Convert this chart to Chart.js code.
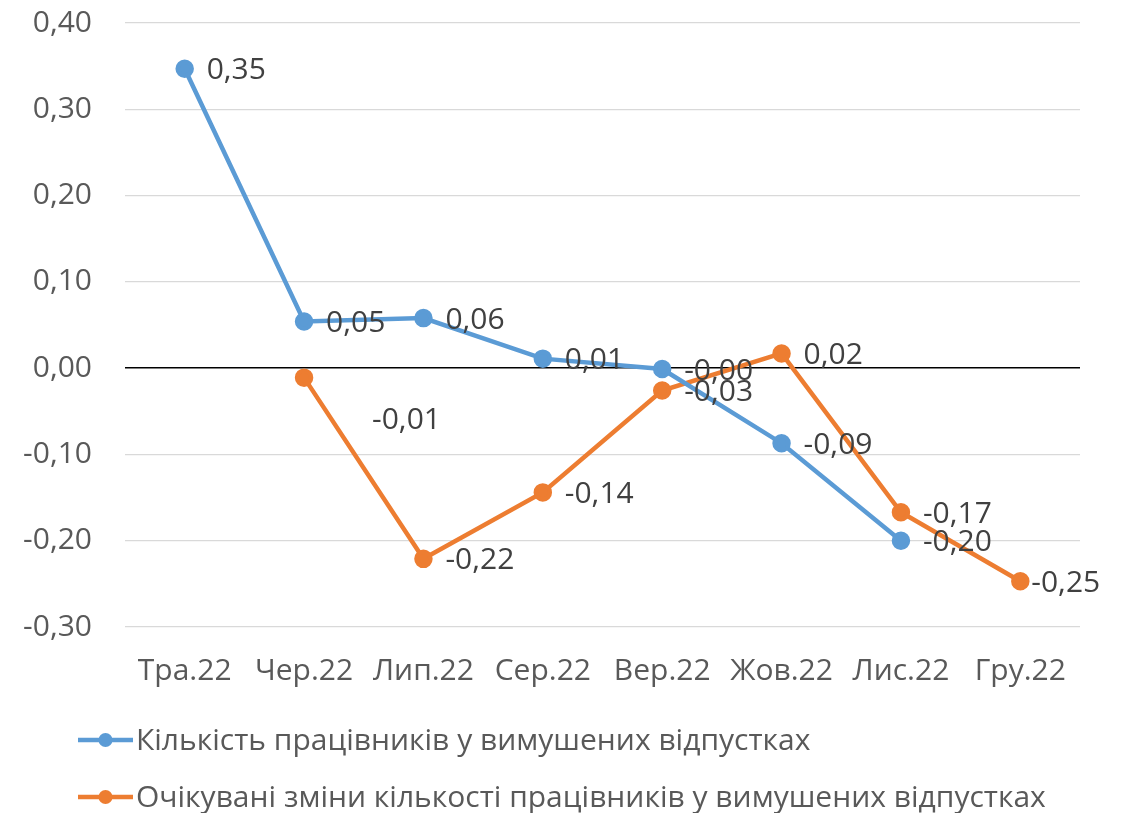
<!DOCTYPE html>
<html>
<head>
<meta charset="utf-8">
<script src="https://cdn.jsdelivr.net/npm/chart.js@4"></script>
<style>
  html, body { margin: 0; padding: 0; background: #fff; }
  #wrap { width: 1129px; height: 813px; position: relative; }
</style>
</head>
<body>
<div id="wrap"><canvas id="chart"></canvas></div>
<script>
// categories and values
const months = ["Тра.22", "Чер.22", "Лип.22", "Сер.22", "Вер.22", "Жов.22", "Лис.22", "Гру.22"];
const workersOnLeave = [0.347, 0.054, 0.058, 0.011, -0.001, -0.087, -0.200, null];
const expectedChange = [null, -0.011, -0.221, -0.144, -0.026, 0.017, -0.167, -0.247];
const seriesNames = [
  "Кількість працівників у вимушених відпустках",
  "Очікувані зміни кількості працівників у вимушених відпустках"
];

const BLUE = "#5b9bd5";
const ORANGE = "#ed7d31";
const FONT = "'Open Sans', Lato, sans-serif";
const FSIZE = 30;

function fmt(v) {
  return v.toFixed(2).replace(".", ",");
}

// draws value labels next to each point
const valueLabels = {
  id: "valueLabels",
  afterDatasetsDraw(chart) {
    const ctx = chart.ctx;
    ctx.save();
    ctx.font = FSIZE + "px " + FONT;
    ctx.fillStyle = "#404040";
    ctx.textBaseline = "middle";
    ctx.textAlign = "left";
    chart.data.datasets.forEach((ds, i) => {
      const meta = chart.getDatasetMeta(i);
      meta.data.forEach((pt, j) => {
        const v = ds.data[j];
        if (v === null || v === undefined) return;
        const shift = (ds.labelShift && ds.labelShift[j]) || [0, 0];
        ctx.fillText(fmt(v), pt.x + 22 + shift[0], pt.y + 2 + shift[1]);
      });
    });
    ctx.restore();
  }
};

// legend below the chart: line with marker, one row per series
const lineLegend = {
  id: "lineLegend",
  afterDraw(chart) {
    const ctx = chart.ctx;
    ctx.save();
    ctx.font = FSIZE + "px " + FONT;
    ctx.textBaseline = "middle";
    ctx.textAlign = "left";
    chart.data.datasets.forEach((ds, i) => {
      const y = 740 + i * 57;
      ctx.strokeStyle = ds.borderColor;
      ctx.lineWidth = 4.5;
      ctx.beginPath();
      ctx.moveTo(78, y);
      ctx.lineTo(133, y);
      ctx.stroke();
      ctx.fillStyle = ds.borderColor;
      ctx.beginPath();
      ctx.arc(105.5, y, 7, 0, Math.PI * 2);
      ctx.fill();
      ctx.fillStyle = "#595959";
      ctx.fillText(ds.label, 136, y + 1);
    });
    ctx.restore();
  }
};

const ctx = document.getElementById("chart");
new Chart(ctx, {
  type: "line",
  data: {
    labels: months,
    datasets: [
      {
        label: seriesNames[0],
        data: workersOnLeave,
        borderColor: BLUE,
        backgroundColor: BLUE,
        borderWidth: 4.5,
        pointRadius: 7,
        pointHoverRadius: 7,
        tension: 0,
        spanGaps: false
      },
      {
        label: seriesNames[1],
        data: expectedChange,
        borderColor: ORANGE,
        backgroundColor: ORANGE,
        borderWidth: 4.5,
        pointRadius: 7,
        pointHoverRadius: 7,
        tension: 0,
        spanGaps: false,
        labelShift: { 1: [46, 41], 7: [-11, 0] }
      }
    ]
  },
  options: {
    responsive: true,
    maintainAspectRatio: false,
    animation: false,
    layout: { padding: { left: 0, right: 49, top: 23, bottom: 106 } },
    plugins: {
      legend: { display: false },
      tooltip: { enabled: false }
    },
    scales: {
      x: {
        offset: true,
        grid: { display: false, drawTicks: false },
        border: { display: false },
        ticks: {
          color: "#595959",
          font: { family: FONT, size: FSIZE },
          padding: 26,
          maxRotation: 0,
          autoSkip: false
        },
        afterFit(scale) { scale.height = 80; }
      },
      y: {
        min: -0.3,
        max: 0.4,
        grid: {
          drawTicks: false,
          color: (c) => (Math.abs(c.tick.value) < 1e-9 ? "#000000" : "#d9d9d9"),
          lineWidth: (c) => (Math.abs(c.tick.value) < 1e-9 ? 1.6 : 1.3)
        },
        border: { display: false },
        ticks: {
          stepSize: 0.1,
          color: "#595959",
          font: { family: FONT, size: FSIZE },
          padding: 33,
          callback: (v) => fmt(v)
        },
        afterFit(scale) {
          scale.width = 125;
          scale.paddingTop = 0;
          scale.paddingBottom = 0;
        }
      }
    }
  },
  plugins: [valueLabels, lineLegend]
});
</script>
</body>
</html>
